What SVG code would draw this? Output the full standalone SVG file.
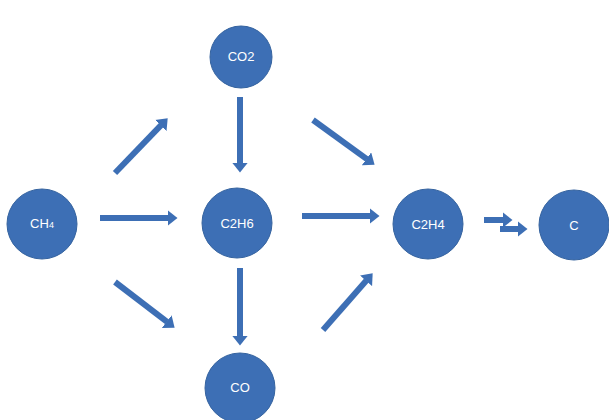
<svg xmlns="http://www.w3.org/2000/svg" width="609" height="420" viewBox="0 0 609 420">
  <style>
    .node circle { fill: #3d6fb5; stroke: #35639f; stroke-width: 1; }
    .node text { fill: #ffffff; font-family: "Liberation Sans", Arial, sans-serif; font-size: 13px; text-anchor: middle; }
    .conn line { stroke: #3d6fb5; stroke-width: 6; marker-end: url(#head); }
  </style>
  <defs>
    <marker id="head" viewBox="0 0 10 16" refX="0.5" refY="8" markerWidth="10" markerHeight="16" markerUnits="userSpaceOnUse" orient="auto">
      <path d="M0,0 L10,8 L0,16 Z" fill="#3d6fb5"/>
    </marker>
  </defs>
  <rect width="609" height="420" fill="#ffffff"/>

  <g id="connectors" class="conn">
    <line x1="115" y1="173" x2="161.1" y2="125.2"/>
    <line x1="240" y1="97" x2="240" y2="163"/>
    <line x1="313" y1="120" x2="366.9" y2="159.1"/>
    <line x1="100" y1="218" x2="168" y2="218"/>
    <line x1="302" y1="216" x2="370" y2="216"/>
    <line x1="115" y1="282" x2="167.1" y2="321.9"/>
    <line x1="240" y1="268" x2="240" y2="336"/>
    <line x1="323" y1="330" x2="366.4" y2="280.5"/>
    <line x1="484" y1="220" x2="503" y2="220"/>
    <line x1="500" y1="229" x2="518" y2="229"/>
  </g>

  <g id="node-ch4" class="node">
    <circle cx="42" cy="224" r="35"/>
    <text x="42" y="228">CH<tspan font-size="9">4</tspan></text>
  </g>
  <g id="node-co2" class="node">
    <circle cx="241" cy="57" r="31"/>
    <text x="241" y="61" font-size="11">CO2</text>
  </g>
  <g id="node-c2h6" class="node">
    <circle cx="237" cy="223" r="35"/>
    <text x="237" y="228">C2H6</text>
  </g>
  <g id="node-c2h4" class="node">
    <circle cx="428" cy="224" r="35"/>
    <text x="428" y="229">C2H4</text>
  </g>
  <g id="node-c" class="node">
    <circle cx="574" cy="225" r="35"/>
    <text x="574" y="230">C</text>
  </g>
  <g id="node-co" class="node">
    <circle cx="240" cy="388" r="35"/>
    <text x="240" y="392" font-size="12">CO</text>
  </g>
</svg>
